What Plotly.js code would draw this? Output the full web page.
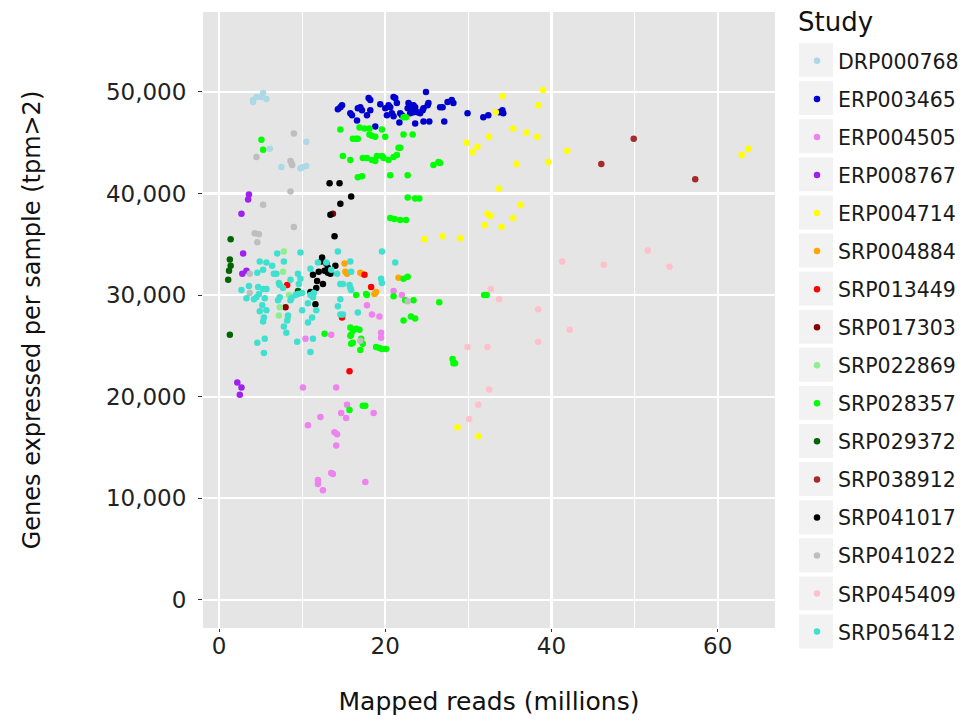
<!DOCTYPE html>
<html>
<head>
<meta charset="utf-8">
<script src="https://cdn.plot.ly/plotly-3.0.1.min.js"></script>
<style>html,body{margin:0;padding:0;background:#fff;}#chart{width:966px;height:727px;}</style>
</head>
<body>
<div id="chart"></div>
<script>
var studies = ["DRP000768","ERP003465","ERP004505","ERP008767","ERP004714","SRP004884","SRP013449","SRP017303","SRP022869","SRP028357","SRP029372","SRP038912","SRP041017","SRP041022","SRP045409","SRP056412"];
var colors = ["#ADD8E6","#0000CD","#EE82EE","#A020F0","#FFFF00","#FFA500","#FF0000","#8B0000","#90EE90","#00FF00","#006400","#A52A2A","#000000","#BEBEBE","#FFC0CB","#40E0D0"];

// Mapped reads (millions) and genes expressed (thousands) per study
var DRP000768_x = [4.1,4.5,5.3,5.1,5.7,4.1,10.5,6.1,7.5,9.8,10.1,10.5];
var DRP000768_y = [49.2,49.5,49.9,49.5,49.3,49.0,45.1,44.4,42.6,42.5,42.6,42.7];

var ERP003465_x = [14.6,14.3,14.8,15.8,16.0,16.6,16.7,17.0,17.2,17.8,18.2,18.0,18.2,18.8,19.4,20.0,20.2,20.4,20.6,20.8,21.0,21.0,21.2,21.4,21.8,22.0,21.7,22.7,22.8,23.0,23.3,23.4,23.6,23.0,23.4,23.9,24.2,24.5,24.6,23.6,24.9,25.1,25.2,24.6,25.3,26.6,26.9,27.1,27.5,28.0,28.2,29.9,31.8,32.4,34.1,34.2,33.7];
var ERP003465_y = [48.5,48.3,48.7,47.9,47.7,47.2,48.4,48.5,48.2,47.7,48.2,49.4,49.2,46.6,48.8,48.4,47.7,48.7,48.5,47.9,47.6,49.5,49.4,48.9,47.9,47.7,47.0,48.4,48.9,48.7,48.5,48.7,48.5,47.9,48.0,48.0,47.9,48.2,48.4,46.9,50.0,48.7,48.9,47.1,47.1,48.5,48.5,47.1,49.0,49.2,48.9,47.9,47.5,47.7,48.2,47.9,48.0];

var ERP004505_x = [10.1,14.1,15.4,14.7,15.3,18.6,12.2,10.7,13.9,14.2,14.1,13.5,13.7,11.9,11.9,12.5,17.6,10.4,13.5,17.8,18.4,19.3,19.5,19.5,21.0,22.0];
var ERP004505_y = [20.9,20.9,19.2,18.4,17.9,18.4,18.0,17.2,16.5,16.3,15.2,12.5,12.4,11.8,11.4,10.8,11.6,25.7,26.1,29.0,28.1,27.9,26.3,25.8,30.4,30.0];

var ERP008767_x = [3.6,3.5,2.7,2.9,3.3,2.8,2.2,2.7,2.5];
var ERP008767_y = [39.9,39.4,38.0,34.1,32.4,32.1,21.4,20.9,20.2];

var ERP004714_x = [39.0,38.4,34.1,33.3,29.8,31.1,30.5,32.5,35.4,37.0,38.3,41.9,39.6,35.8,33.7,32.3,32.7,36.3,35.4,32.0,34.0,24.7,26.9,29.0,28.7,31.2,62.9,63.7];
var ERP004714_y = [50.2,48.7,49.6,48.0,45.0,44.6,44.1,45.6,46.4,46.0,45.6,44.2,43.1,42.9,40.5,38.0,37.8,38.9,37.6,36.9,36.7,35.5,35.8,35.6,17.0,16.1,43.8,44.4];

var SRP004884_x = [15.1,15.2,15.4,17.0,17.2,18.7,18.9,21.6];
var SRP004884_y = [33.1,32.3,32.1,32.2,32.1,30.1,30.3,31.7];

var SRP013449_x = [8.2,17.5,18.3,14.8,15.7];
var SRP013449_y = [31.0,32.0,30.8,27.8,22.5];

var SRP017303_x = [13.7,8.0];
var SRP017303_y = [38.0,28.8];

var SRP022869_x = [7.8,7.7,8.4,7.3,7.2,8.3];
var SRP022869_y = [34.3,32.3,30.0,28.8,28.0,27.8];

var SRP028357_x = [5.1,5.3,14.6,16.9,17.5,18.1,19.6,16.1,16.5,16.7,18.1,18.4,18.8,20.0,22.2,23.3,22.2,22.5,21.6,21.8,14.9,15.8,17.3,17.8,18.4,18.8,19.0,19.6,19.8,20.4,21.0,21.4,25.8,26.4,26.6,16.7,17.2,20.6,22.7,22.7,23.6,24.1,20.6,21.1,21.8,22.5,16.5,17.7,17.8,21.0,22.2,22.7,22.4,23.4,26.5,22.2,23.1,23.6,15.8,16.1,16.5,16.9,15.9,15.8,17.1,17.3,15.9,16.1,17.0,18.9,19.3,19.6,20.1,12.7,28.1,28.2,28.4,31.9,32.2,15.7,17.3,17.6];
var SRP028357_y = [45.3,44.3,46.3,46.5,46.4,46.4,46.3,45.4,45.4,45.4,45.8,45.7,45.6,45.6,45.8,45.8,47.5,47.5,44.5,44.5,43.7,43.3,43.5,43.5,43.3,43.2,43.7,43.7,43.5,43.3,43.6,43.8,42.8,43.1,43.0,41.6,41.7,41.8,41.8,39.6,39.5,39.5,37.6,37.5,37.4,37.4,30.0,30.1,30.0,29.9,31.6,31.8,29.5,29.5,29.3,27.5,27.9,27.7,26.8,26.5,26.7,26.6,26.1,26.0,25.7,25.2,25.2,25.3,24.6,24.9,24.8,24.7,24.7,26.2,23.7,23.3,23.3,30.0,30.0,18.7,19.1,19.1];

var SRP029372_x = [1.4,1.3,1.4,1.2,1.1,9.5,1.3];
var SRP029372_y = [35.5,33.5,32.9,32.4,31.5,30.4,26.1];

var SRP038912_x = [46.0,49.9,57.3];
var SRP038912_y = [42.9,45.4,41.4];

var SRP041017_x = [13.3,14.5,15.9,14.6,13.4,13.9,12.4,12.3,12.9,13.1,12.0,12.7,13.1,13.4,11.3,11.8,12.5,11.7,11.0,11.6,14.0];
var SRP041017_y = [41.0,41.0,39.7,39.0,37.9,35.8,33.7,33.3,33.1,32.7,32.3,32.4,32.2,32.1,32.0,31.4,31.1,30.7,30.3,29.1,32.9];

var SRP041022_x = [9.0,4.5,8.6,8.8,8.7,8.6,5.3,9.0,4.3,4.8,4.6,3.7,3.7,17.0,22.7];
var SRP041022_y = [45.9,43.6,43.2,42.8,43.0,40.2,38.9,36.7,36.1,36.0,35.2,32.1,30.2,25.5,29.4];

var SRP045409_x = [41.3,32.7,33.7,38.4,42.2,38.4,29.9,32.3,46.3,51.6,54.2,32.5,31.2,30.1];
var SRP045409_y = [33.3,30.6,29.6,28.6,26.6,25.4,24.9,24.9,33.0,34.4,32.8,20.7,19.2,17.8];

var SRP056412_x = [7.0,9.8,14.3,19.6,21.2,4.9,5.7,6.4,7.8,4.6,5.3,6.6,6.9,7.2,7.3,7.7,8.6,9.5,9.8,9.6,11.0,11.9,12.9,13.5,14.2,15.8,15.9,15.7,14.6,14.9,15.8,15.9,19.5,19.6,3.6,2.7,4.7,5.3,5.7,4.8,4.5,4.2,3.3,5.5,5.2,4.9,5.7,5.4,5.3,7.1,7.3,8.7,8.6,9.2,9.5,10.0,11.0,11.3,11.4,10.7,11.7,11.2,10.7,8.3,8.2,7.8,8.1,10.0,14.6,14.3,16.7,14.6,14.9,4.6,5.5,5.4,9.4,11.3,11.0];
var SRP056412_y = [34.1,34.2,34.3,34.3,33.2,33.3,33.2,32.9,33.3,32.2,32.5,32.1,32.1,31.2,31.0,30.7,31.5,32.1,31.6,31.1,32.6,33.2,33.2,32.5,32.1,33.3,32.3,31.0,31.1,31.1,30.7,30.5,31.6,31.2,30.9,30.5,30.8,30.6,30.6,30.1,29.8,29.6,29.7,29.7,29.0,28.4,28.5,27.8,27.4,29.5,29.8,29.7,29.5,30.0,30.1,30.2,30.0,29.8,30.2,29.2,28.5,27.8,27.3,28.0,27.5,26.9,26.3,28.5,29.6,28.9,28.3,28.1,28.1,25.3,25.7,24.3,25.4,25.7,24.4];

var seriesX = [DRP000768_x,ERP003465_x,ERP004505_x,ERP008767_x,ERP004714_x,SRP004884_x,SRP013449_x,SRP017303_x,SRP022869_x,SRP028357_x,SRP029372_x,SRP038912_x,SRP041017_x,SRP041022_x,SRP045409_x,SRP056412_x];
var seriesY = [DRP000768_y,ERP003465_y,ERP004505_y,ERP008767_y,ERP004714_y,SRP004884_y,SRP013449_y,SRP017303_y,SRP022869_y,SRP028357_y,SRP029372_y,SRP038912_y,SRP041017_y,SRP041022_y,SRP045409_y,SRP056412_y];

var xTicks = [0,20,40,60];
var yTicks = [0,10000,20000,30000,40000,50000];
var yTickText = ["0","10,000","20,000","30,000","40,000","50,000"];

var traces = studies.map(function(name, i){
  return {
    type: "scatter", mode: "markers", name: name, legendgroup: name,
    x: seriesX[i],
    y: seriesY[i].map(function(v){ return v * 1000; }),
    marker: {color: colors[i], size: 6.5, line: {width: 0}}
  };
});

// legend key background boxes (ggplot style)
var L = 203, R = 775, T = 12, B = 628, W = R - L, H = B - T;
var shapes = [];
for (var i = 0; i < studies.length; i++) {
  var cy = 60 + i * 38.1;
  shapes.push({type:"rect", xref:"paper", yref:"paper",
    x0:(799-L)/W, x1:(833-L)/W, y0:(B-(cy+17))/H, y1:(B-(cy-17))/H,
    fillcolor:"#F2F2F2", line:{width:0}, layer:"below"});
}

var FONT = "DejaVu Sans, Liberation Sans, Arial, sans-serif";
var layout = {
  width: 966, height: 727,
  margin: {l: L, r: 966 - R, t: T, b: 727 - B, autoexpand: false},
  paper_bgcolor: "#FFFFFF",
  plot_bgcolor: "#E5E5E5",
  font: {family: FONT, color: "#222222"},
  showlegend: true,
  shapes: shapes,
  annotations: [{text: "Study", xref: "paper", yref: "paper", x: (796 - L) / W, y: (B - 22) / H,
    xanchor: "left", yanchor: "middle", showarrow: false, font: {size: 26, color: "#111111"}}],
  legend: {
    xref: "container", yref: "container",
    x: 796 / 966, xanchor: "left", y: 1 - 41 / 727, yanchor: "top",
    font: {size: 20.5, color: "#1a1a1a"},
    bgcolor: "rgba(0,0,0,0)", tracegroupgap: 8.4, itemwidth: 32,
    maxheight: 720
  },
  xaxis: {
    range: [-1.93, 66.9], tickvals: xTicks, ticktext: xTicks.map(String),
    showgrid: true, gridcolor: "#FFFFFF", gridwidth: 2.2,
    minor: {dtick: 10, tick0: 0, showgrid: true, gridcolor: "#FFFFFF", gridwidth: 1},
    zeroline: false, showline: false,
    ticks: "outside", ticklen: 3, tickcolor: "#333333", ticklabelstandoff: -6,
    tickfont: {size: 23, color: "#222222"},
    title: {text: "Mapped reads (millions)", font: {size: 25, color: "#111111"}, standoff: 34}
  },
  yaxis: {
    range: [-2770, 57870], tickvals: yTicks, ticktext: yTickText,
    showgrid: true, gridcolor: "#FFFFFF", gridwidth: 2.2,
    zeroline: false, showline: false,
    ticks: "outside", ticklen: 4, tickcolor: "#333333", ticklabelstandoff: 7,
    tickfont: {size: 23, color: "#222222"},
    title: {text: "Genes expressed per sample (tpm>2)", font: {size: 24, color: "#111111"}, standoff: 58}
  }
};

Plotly.newPlot("chart", traces, layout, {displayModeBar: false, staticPlot: true});
</script>
</body>
</html>
